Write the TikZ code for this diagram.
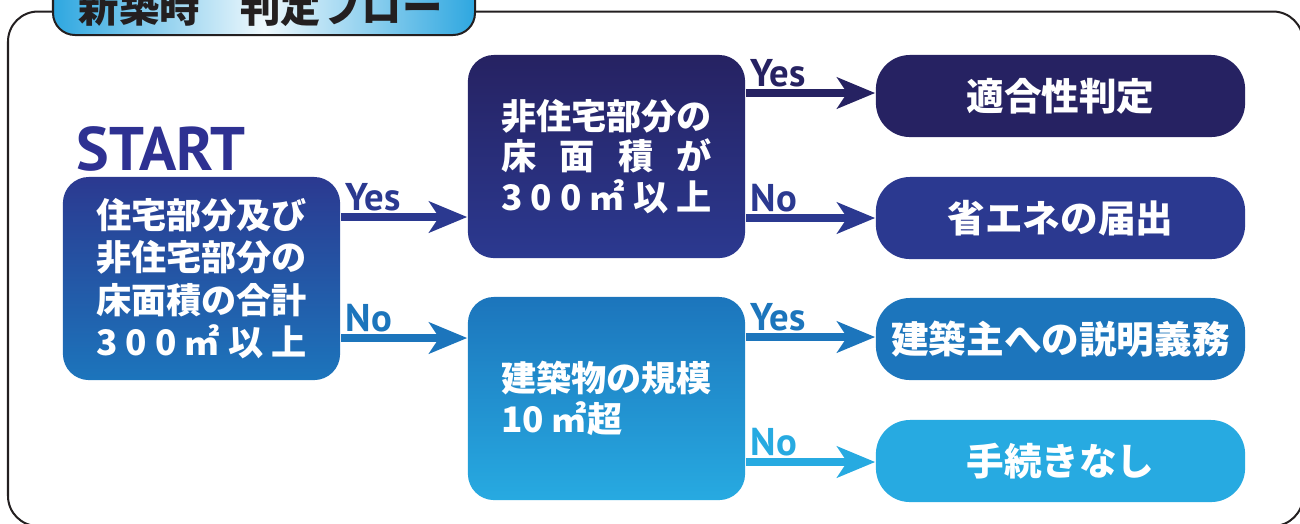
\documentclass[tikz,border=0pt]{standalone}
\usepackage{fontspec}
\newfontfamily\jp{Noto Sans CJK JP}
\newfontfamily\lat{PT Sans}
\usetikzlibrary{arrows.meta}
\definecolor{cA}{HTML}{262262}
\definecolor{cB}{HTML}{2B3990}
\definecolor{cC}{HTML}{1C75BC}
\definecolor{cD}{HTML}{27AAE1}
\definecolor{tabblue}{HTML}{2EA7E0}
\definecolor{ink}{HTML}{231F20}
\definecolor{startc}{HTML}{2E3192}
\tikzset{
  qbox/.style={rounded corners=0.26cm, minimum width=2.77cm, minimum height=2.03cm,
    inner sep=0pt, text=white, align=left},
  rbox/.style={rounded corners=0.34cm, minimum width=3.69cm, minimum height=0.82cm,
    inner sep=0pt, text=white, font=\jp\bfseries\fontsize{10.7}{12}\selectfont},
  arr/.style={line width=0.08cm, -{Stealth[length=0.38cm, width=0.31cm, inset=0.1cm]}},
  lbl/.style={font=\lat\bfseries\fontsize{11}{13}\selectfont, inner sep=0pt, anchor=base west},
}
\begin{document}
\begin{tikzpicture}[x=0.01cm, y=-0.01cm]
\useasboundingbox (0,0) rectangle (1300,523);
\clip (0,0) rectangle (1300,523);
% frame
\draw[ink, line width=0.02cm, rounded corners=0.3cm] (8,11.5) rectangle (1303,526);
% title tab
\draw[ink, line width=0.02cm, left color=tabblue, right color=tabblue,
  middle color=white!92!tabblue, rounded corners=0.22cm] (53,-25) rectangle (475,35);
\node[inner sep=0pt, anchor=base west, text=ink, font=\jp\bfseries\fontsize{11.5}{12}\selectfont]
  (title) at (78,22) {新築時　判定フロー};
% START
\node[inner sep=0pt, anchor=base west, text=startc, font=\lat\bfseries\fontsize{17.5}{20}\selectfont]
  (start) at (76,170) {START};
% decision boxes
\node[qbox, top color=cB, bottom color=cC, font=\jp\bfseries\fontsize{10}{12}\selectfont]
  (b1) at (201.5,278.5) {住宅部分及び\\非住宅部分の\\床面積の合計\\\hbox to 6em{3\hfill 0\hfill 0\hfill ㎡\hfill 以\hfill 上}};
\node[qbox, top color=cA, bottom color=cB, font=\jp\bfseries\fontsize{10}{11.5}\selectfont]
  (b2) at (606.5,156.5) {非住宅部分の\\\hbox to 6em{床\hfill 面\hfill 積\hfill が}\\\hbox to 6em{3\hfill 0\hfill 0\hfill ㎡\hfill 以\hfill 上}};
\node[qbox, top color=cC, bottom color=cD, font=\jp\bfseries\fontsize{10}{11.5}\selectfont]
  (b3) at (606.5,398.5) {建築物の規模\\10 ㎡超};
% results
\node[rbox, fill=cA] (rA) at (1060.5,96) {適合性判定};
\node[rbox, fill=cB] (rB) at (1060.5,218) {省エネの届出};
\node[rbox, fill=cC] (rC) at (1060.5,339) {建築主への説明義務};
\node[rbox, fill=cD] (rD) at (1060.5,461) {手続きなし};
% arrows
\draw[arr, cB] (b1.east |- 0,217) -- (b2.west |- 0,217);
\draw[arr, cC] (b1.east |- 0,338) -- (b3.west |- 0,338);
\draw[arr, cA] (b2.east |- 0,93) -- (rA.west |- 0,93);
\draw[arr, cB] (b2.east |- 0,218) -- (rB.west |- 0,218);
\draw[arr, cC] (b3.east |- 0,337) -- (rC.west |- 0,337);
\draw[arr, cD] (b3.east |- 0,462) -- (rD.west |- 0,462);
% labels
\node[lbl, text=cB] (l1) at (345,210) {Yes};
\node[lbl, text=cC] (l2) at (345,331) {No};
\node[lbl, text=cA] (l3) at (750,86) {Yes};
\node[lbl, text=cB] (l4) at (750,211) {No};
\node[lbl, text=cC] (l5) at (750,330) {Yes};
\node[lbl, text=cD] (l6) at (750,455) {No};
\end{tikzpicture}
\end{document}
